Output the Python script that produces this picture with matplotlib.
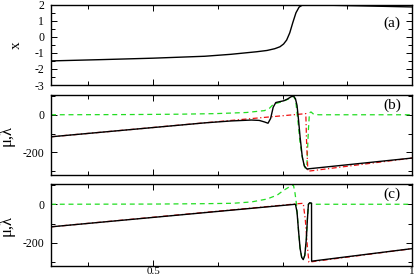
import matplotlib
matplotlib.use("Agg")
import matplotlib.pyplot as plt
from matplotlib.ticker import FixedLocator, NullFormatter

plt.rcParams['font.family'] = ['Liberation Serif', 'DejaVu Serif']
plt.rcParams['axes.unicode_minus'] = False

# panel (a): x
a_t = [0.303, 0.40, 0.50, 0.60, 0.65, 0.70, 0.72, 0.735, 0.745, 0.752, 0.758,
       0.764, 0.770, 0.776, 0.782, 0.788, 0.795, 0.82, 0.90, 1.0]
a_x = [-1.5, -1.42, -1.33, -1.21, -1.09, -0.93, -0.85, -0.74, -0.62, -0.45, -0.2,
       0.25, 0.9, 1.5, 1.85, 1.97, 2.0, 1.98, 1.93, 1.86]

# panel (b)
b_t_black = [0.303, 0.60, 0.65, 0.69, 0.705, 0.715, 0.722, 0.727, 0.732, 0.737,
             0.745, 0.752, 0.760, 0.766, 0.771, 0.775, 0.778, 0.781, 0.784,
             0.788, 0.792, 0.797, 1.0]
b_black = [-117, -43, -33, -28, -30, -38, -45, -20, 40, 65,
           70, 74, 84, 95, 100, 85, 50, -30, -120,
           -220, -272, -288, -230]
b_t_green = [0.303, 0.45, 0.55, 0.62, 0.68, 0.715, 0.725, 0.732, 0.74, 0.75,
             0.76, 0.768, 0.772, 0.776, 0.780, 0.784, 0.789, 0.794, 0.797,
             0.800, 0.802, 0.805, 0.81, 0.82, 1.0]
b_green = [0, 1, 3, 6, 12, 22, 35, 55, 62, 70,
           82, 95, 98, 60, -40, -150, -240, -285, -270,
           -80, 10, 15, 3, 0, 0]
b_t_red = [0.303, 0.795, 0.7965, 0.799, 1.0]
b_red = [-117, 6, -150, -300, -230]

# panel (c)
c_t_black = [0.303, 0.775, 0.778, 0.781, 0.784, 0.787, 0.790, 0.793, 0.796,
             0.798, 0.800, 0.8025, 0.806, 0.8062, 1.0]
c_black = [-117, 0, -40, -140, -230, -275, -287, -265, -180,
           -80, 0, 8, 6, -295, -230]
c_t_green = [0.303, 0.50, 0.60, 0.654, 0.69, 0.72, 0.74, 0.751, 0.760, 0.768,
             0.771, 0.774, 0.777, 0.781, 0.784, 0.787, 0.790, 0.793, 0.796,
             0.798, 0.800, 0.803, 0.81, 1.0]
c_green = [0, 1, 3, 5, 12, 27, 48, 70, 85, 97,
           100, 60, 0, -140, -230, -275, -285, -265, -180,
           -80, 0, 5, 0, 0]
c_t_red = [0.303, 0.776, 0.790, 0.794, 0.798, 0.801, 1.0]
c_red = [-117, 2, 5, -80, -220, -300, -230]

W, H = 415, 278
fig = plt.figure(figsize=(W / 100, H / 100), dpi=100)

def px_axes(left, top, right, bottom):
    return fig.add_axes([left / W, 1 - bottom / H, (right - left) / W, (bottom - top) / H])

ax_a = px_axes(51, 4.7, 412, 85)
ax_b = px_axes(51, 95, 412, 175)
ax_c = px_axes(51, 184, 412, 266)

green = '#22dd22'
red = '#ee1111'

ax_a.plot(a_t, a_x, color='black', lw=1.0)
ax_a.set_ylim(-3, 2)
ax_a.yaxis.set_major_locator(FixedLocator([-3, -2, -1, 0, 1, 2]))
ax_a.yaxis.set_minor_locator(FixedLocator([-2.5, -1.5, -0.5, 0.5, 1.5]))
ax_a.set_ylabel('x', fontsize=11)
ax_a.yaxis.set_label_coords(-0.078, 0.5)
ax_a.text(0.945, 0.77, '(a)', transform=ax_a.transAxes, fontsize=11, ha='center', va='center')

ax_b.plot(b_t_green, b_green, color=green, lw=0.9, ls=(0, (4, 3)))
ax_b.plot(b_t_red, b_red, color=red, lw=0.9, ls=(0, (4, 2, 1, 2)))
ax_b.plot(b_t_black, b_black, color='black', lw=1.0)
ax_b.text(0.945, 0.87, '(b)', transform=ax_b.transAxes, fontsize=11, ha='center', va='center')

ax_c.plot(c_t_green, c_green, color=green, lw=0.9, ls=(0, (4, 3)))
ax_c.plot(c_t_red, c_red, color=red, lw=0.9, ls=(0, (4, 2, 1, 2)))
ax_c.plot(c_t_black, c_black, color='black', lw=1.0)
ax_c.text(0.945, 0.87, '(c)', transform=ax_c.transAxes, fontsize=11, ha='center', va='center')

for ax in (ax_b, ax_c):
    ax.set_ylim(-320, 105)
    ax.yaxis.set_major_locator(FixedLocator([-200, 0]))
    ax.yaxis.set_minor_locator(FixedLocator([-300, -100, 100]))
    ax.set_ylabel('μ,λ', fontsize=12)
    ax.yaxis.set_label_coords(-0.10, 0.5)

for ax in (ax_a, ax_b, ax_c):
    ax.set_xlim(0.303, 1.0)
    ax.xaxis.set_major_locator(FixedLocator([0.5, 1.0]))
    ax.xaxis.set_minor_locator(FixedLocator([0.375, 0.625, 0.75, 0.875]))
    ax.tick_params(which='both', direction='in', top=True, right=True,
                   labelsize=8.5, width=0.7)
    ax.tick_params(which='major', length=4)
    ax.tick_params(which='minor', length=3)
    ax.tick_params(axis='y', pad=5)
    ax.tick_params(axis='x', pad=1, labelsize=8)
    for s in ax.spines.values():
        s.set_linewidth(1.0)
    if ax is not ax_c:
        ax.xaxis.set_major_formatter(NullFormatter())

ax_c.set_xticklabels(['0.5', '1'])

fig.savefig('out.png', dpi=100)
